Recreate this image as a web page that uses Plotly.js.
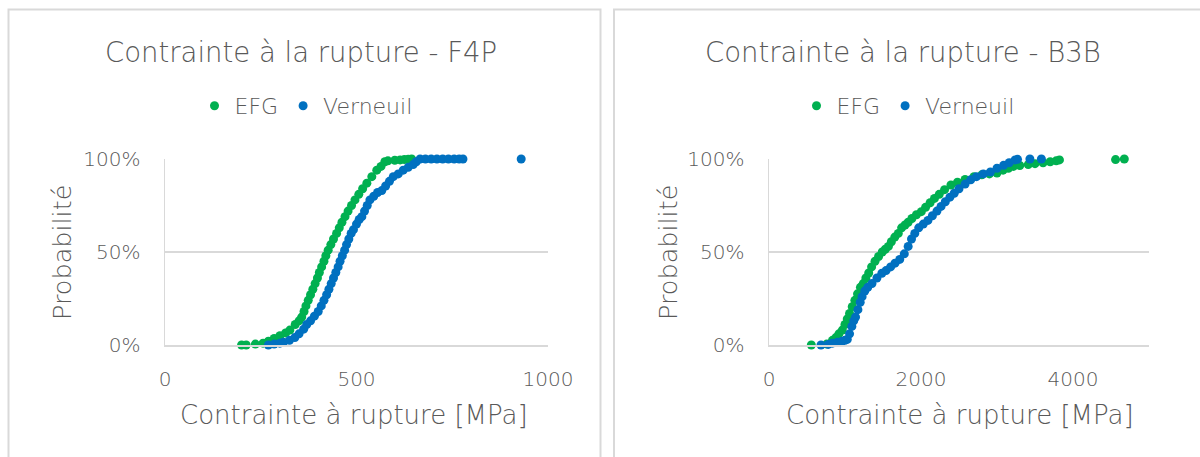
<!DOCTYPE html>
<html>
<head>
<meta charset="utf-8">
<script src="https://cdn.plot.ly/plotly-3.0.1.min.js"></script>
<style>html,body{margin:0;padding:0;background:#fff;}#chart{width:1200px;height:457px;}</style>
</head>
<body>
<div id="chart"></div>
<script>
// ---- Data: F4P (stress in MPa, cumulative probability) ----
const f4pEfgStress = [200,212,236,256,270,285,300,315,326,340,350,357,363,368,374,380,386,392,398,403,409,415,420,426,433,440,448,455,462,470,478,487,496,506,516,527,540,553,564,574,582,600,614,625,635,644];
const f4pEfgProb   = [0,0,0.005,0.01,0.02,0.035,0.05,0.065,0.08,0.11,0.13,0.15,0.18,0.21,0.24,0.27,0.30,0.33,0.36,0.39,0.42,0.45,0.48,0.51,0.54,0.57,0.60,0.63,0.66,0.69,0.72,0.75,0.78,0.81,0.84,0.87,0.905,0.94,0.96,0.985,0.99,0.993,0.995,0.997,0.998,1.0];
const f4pVerStress = [270,285,300,309,325,339,350,362,370,380,390,400,408,415,422,428,434,440,446,452,457,463,469,474,480,486,492,500,507,514,521,528,535,545,555,566,576,586,596,609,622,635,648,656,666,680,695,710,725,740,755,768,778,930];
const f4pVerProb   = [0,0.005,0.01,0.015,0.025,0.04,0.06,0.085,0.11,0.13,0.155,0.18,0.21,0.24,0.27,0.30,0.33,0.36,0.39,0.42,0.45,0.48,0.51,0.54,0.57,0.60,0.62,0.65,0.675,0.69,0.72,0.75,0.78,0.80,0.82,0.83,0.855,0.88,0.905,0.92,0.94,0.955,0.97,0.985,1.0,1.0,1.0,1.0,1.0,1.0,1.0,1.0,1.0,1.0];

// ---- Data: B3B ----
const b3bEfgStress = [557,760,835,880,920,965,1000,1030,1060,1095,1130,1165,1203,1240,1275,1312,1350,1395,1442,1490,1530,1571,1610,1655,1701,1745,1790,1831,1880,1940,2004,2060,2120,2177,2240,2310,2394,2480,2580,2697,2800,2900,3000,3080,3150,3216,3300,3411,3500,3606,3700,3779,3822,4560,4675];
const b3bEfgProb   = [0,0.005,0.025,0.04,0.06,0.08,0.11,0.14,0.17,0.206,0.24,0.275,0.31,0.33,0.36,0.387,0.42,0.45,0.476,0.50,0.515,0.53,0.555,0.58,0.60,0.63,0.645,0.66,0.68,0.70,0.717,0.74,0.765,0.788,0.81,0.835,0.86,0.875,0.89,0.905,0.915,0.92,0.925,0.94,0.95,0.96,0.965,0.97,0.975,0.98,0.985,0.99,0.995,0.997,1.0];
const b3bVerStress = [684,780,835,900,960,1000,1030,1060,1090,1115,1139,1170,1200,1225,1260,1300,1355,1420,1485,1540,1600,1658,1720,1780,1831,1875,1918,1970,2030,2091,2150,2210,2264,2320,2380,2437,2500,2580,2654,2730,2820,2913,3000,3087,3160,3238,3270,3433,3584];
const b3bVerProb   = [0,0.003,0.01,0.015,0.02,0.025,0.03,0.06,0.10,0.13,0.15,0.19,0.23,0.26,0.29,0.31,0.33,0.36,0.386,0.40,0.42,0.44,0.46,0.49,0.53,0.57,0.60,0.63,0.65,0.67,0.695,0.72,0.745,0.77,0.795,0.816,0.84,0.865,0.888,0.905,0.92,0.93,0.95,0.966,0.98,0.995,0.998,1.0,1.0];

const seriesNames = ['EFG','Verneuil'];
const seriesColors = ['#00B050','#0070C0'];
const panelTitles = ['Contrainte à la rupture - F4P','Contrainte à la rupture - B3B'];
const xTitle = 'Contrainte à rupture [MPa]';
const yTitle = 'Probabilité';

// ---- Layout helpers (pixel -> paper) ----
const W = 1200, H = 457;
const px = x => x / W;
const py = y => 1 - y / H;
const TXT = '#595959', GRID = '#d9d9d9', FONT = 'DejaVu Sans', WT = 300;

function trace(x, y, i, xa, ya, lg) {
  return {x: x, y: y, type: 'scatter', mode: 'markers', name: seriesNames[i],
    xaxis: xa, yaxis: ya, legend: lg, cliponaxis: false,
    marker: {size: 9, color: seriesColors[i]}, hoverinfo: 'x+y'};
}

const data = [
  trace(f4pEfgStress, f4pEfgProb, 0, 'x', 'y', 'legend'),
  trace(f4pVerStress, f4pVerProb, 1, 'x', 'y', 'legend'),
  trace(b3bEfgStress, b3bEfgProb, 0, 'x2', 'y2', 'legend2'),
  trace(b3bVerStress, b3bVerProb, 1, 'x2', 'y2', 'legend2')
];

const yDom = [py(345), py(159)];
const yBase = {domain: yDom, range: [0, 1], tick0: 0, dtick: 0.5, tickformat: '.0%',
  showgrid: true, gridcolor: GRID, gridwidth: 1.5, showline: true, linecolor: GRID, linewidth: 1.5,
  zeroline: false, ticks: '', ticklabelstandoff: 19, fixedrange: true,
  tickfont: {family: FONT, size: 20, color: TXT, weight: WT}};
const xBase = {showgrid: false, showline: true, linecolor: GRID, linewidth: 1.5, zeroline: false,
  ticks: '', ticklabelstandoff: 15, fixedrange: true, tickfont: {family: FONT, size: 20, color: TXT, weight: WT}};

const legBase = {orientation: 'h', xanchor: 'center', yanchor: 'middle', y: py(106),
  font: {family: FONT, size: 22, color: TXT, weight: WT}, bgcolor: 'rgba(0,0,0,0)', itemclick: false, itemdoubleclick: false};

function ann(text, x, y, size, angle) {
  return {text: text, x: px(x), y: py(y), xref: 'paper', yref: 'paper', showarrow: false,
    xanchor: 'center', yanchor: 'middle', textangle: angle || 0,
    font: {family: FONT, size: size, color: TXT, weight: WT}};
}

const layout = {
  width: W, height: H, margin: {l: 0, r: 0, t: 0, b: 0},
  paper_bgcolor: '#ffffff', plot_bgcolor: 'rgba(0,0,0,0)',
  font: {family: FONT, color: TXT, weight: WT},
  xaxis: Object.assign({}, xBase, {domain: [px(165), px(548)], range: [0, 1000], tick0: 0, dtick: 500, anchor: 'y'}),
  yaxis: Object.assign({}, yBase, {anchor: 'x'}),
  xaxis2: Object.assign({}, xBase, {domain: [px(769), px(1149)], range: [0, 5000], tick0: 0, dtick: 2000, anchor: 'y2'}),
  yaxis2: Object.assign({}, yBase, {anchor: 'x2'}),
  legend: Object.assign({}, legBase, {x: px(306)}),
  legend2: Object.assign({}, legBase, {x: px(908)}),
  showlegend: true,
  shapes: [
    {type: 'rect', xref: 'paper', yref: 'paper', x0: px(8.5), x1: px(600.5), y0: py(480), y1: py(9.5),
     line: {color: GRID, width: 2}, fillcolor: 'rgba(0,0,0,0)', layer: 'below'},
    {type: 'rect', xref: 'paper', yref: 'paper', x0: px(614), x1: px(1220), y0: py(480), y1: py(9.5),
     line: {color: GRID, width: 2}, fillcolor: 'rgba(0,0,0,0)', layer: 'below'}
  ],
  annotations: [
    ann(panelTitles[0], 301, 52, 27.5),
    ann(panelTitles[1], 903, 52, 27.5),
    ann(xTitle, 354, 415, 26),
    ann(xTitle, 960, 415, 26),
    ann(yTitle, 62, 253, 25.5, -90),
    ann(yTitle, 668, 253, 25.5, -90)
  ]
};

Plotly.newPlot('chart', data, layout, {displayModeBar: false, staticPlot: true});
</script>
</body>
</html>
